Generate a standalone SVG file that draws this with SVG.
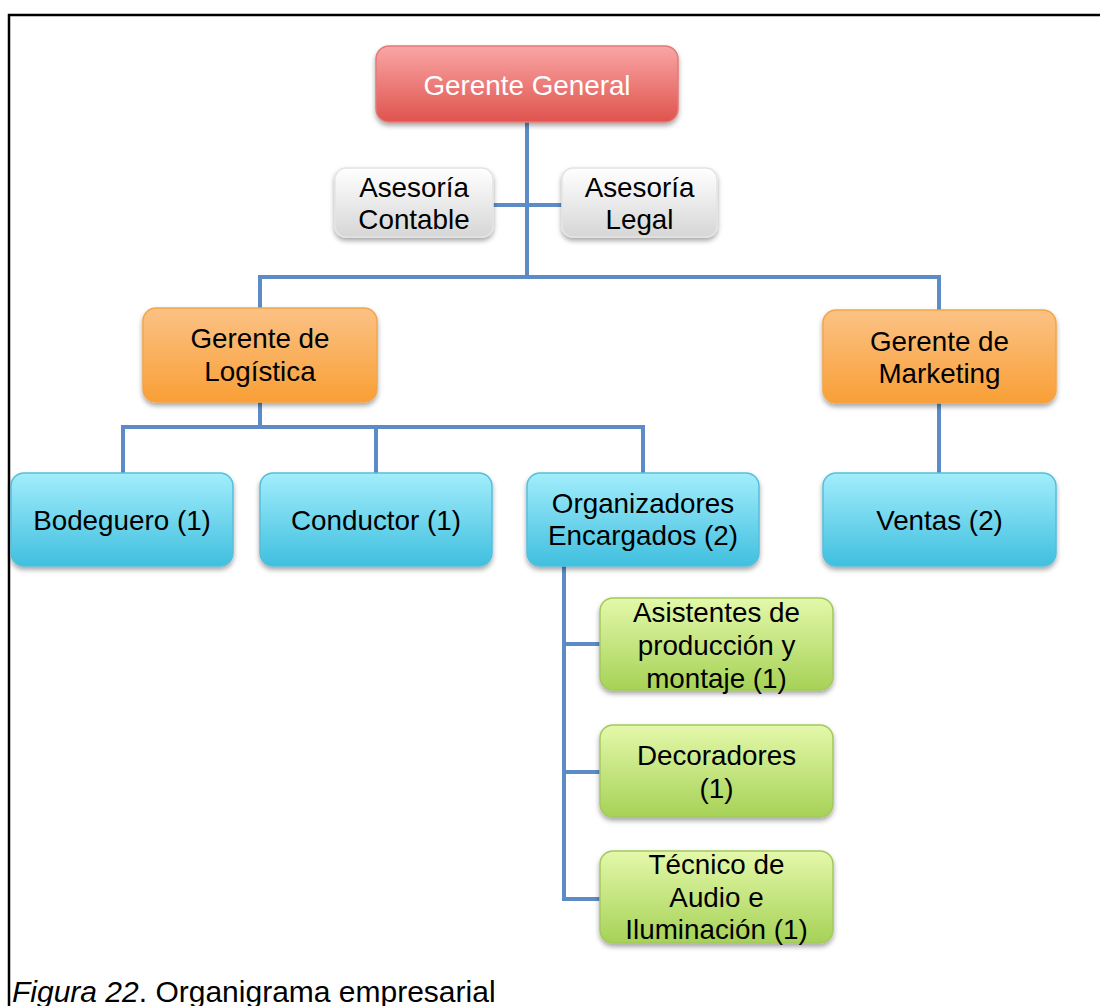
<svg xmlns="http://www.w3.org/2000/svg" width="1100" height="1006" viewBox="0 0 1100 1006">
  <style>
    .box { stroke-width: 1.5; filter: url(#shadow); }
    .red { fill: url(#gRed); stroke: #e27b77; }
    .gray { fill: url(#gGray); stroke: #e4e4e4; }
    .orange { fill: url(#gOrange); stroke: #f3a548; }
    .cyan { fill: url(#gCyan); stroke: #55bfdb; }
    .green { fill: url(#gGreen); stroke: #a3c95c; }
    .lbl { font-family: "Liberation Sans", Arial, sans-serif; font-size: 27.8px; text-anchor: middle; fill: #000; }
    .white { fill: #fff; }
    .conn { fill: none; stroke: #5b8cc6; stroke-width: 4; stroke-linejoin: miter; stroke-linecap: butt; }
    .frame { fill: none; stroke: #000; stroke-width: 2.5; }
    .caption { font-family: "Liberation Sans", Arial, sans-serif; font-size: 30px; fill: #000; }
  </style>
  <defs>
    <linearGradient id="gRed" x1="0" y1="0" x2="0" y2="1">
      <stop offset="0" stop-color="#f9a6a5"/>
      <stop offset="1" stop-color="#df534e"/>
    </linearGradient>
    <linearGradient id="gGray" x1="0" y1="0" x2="0" y2="1">
      <stop offset="0" stop-color="#ffffff"/>
      <stop offset="1" stop-color="#d6d6d6"/>
    </linearGradient>
    <linearGradient id="gOrange" x1="0" y1="0" x2="0" y2="1">
      <stop offset="0" stop-color="#fbc285"/>
      <stop offset="1" stop-color="#f99f36"/>
    </linearGradient>
    <linearGradient id="gCyan" x1="0" y1="0" x2="0" y2="1">
      <stop offset="0" stop-color="#a2edfb"/>
      <stop offset="1" stop-color="#40bfdf"/>
    </linearGradient>
    <linearGradient id="gGreen" x1="0" y1="0" x2="0" y2="1">
      <stop offset="0" stop-color="#e4f8aa"/>
      <stop offset="1" stop-color="#a6d257"/>
    </linearGradient>
    <filter id="shadow" x="-10%" y="-10%" width="120%" height="130%">
      <feDropShadow dx="0" dy="3" stdDeviation="2.5" flood-color="#000" flood-opacity="0.35"/>
    </filter>
  </defs>

  <rect width="1100" height="1006" fill="#fff"/>

  <!-- page frame: top and left rules -->
  <path class="frame" d="M9,1006 V15 H1100"/>

  <!-- connectors -->
  <g id="connectors">
    <path class="conn" d="M527,122 V277"/>
    <path class="conn" d="M493,205 H562"/>
    <path class="conn" d="M260,308 V277 H939 V310"/>
    <path class="conn" d="M260,402 V427"/>
    <path class="conn" d="M123,473 V427 H643 V473"/>
    <path class="conn" d="M376,427 V473"/>
    <path class="conn" d="M939,403 V473"/>
    <path class="conn" d="M564,566 V899 H600"/>
    <path class="conn" d="M564,644 H600"/>
    <path class="conn" d="M564,772 H600"/>
  </g>

  <!-- nodes -->
  <g id="gerente-general">
    <rect class="box red" x="376" y="46" width="302" height="76" rx="13"/>
    <text class="lbl white" x="527" y="95">Gerente General</text>
  </g>

  <g id="asesoria-contable">
    <rect class="box gray" x="335" y="168" width="158" height="69" rx="11"/>
    <text class="lbl" x="414" y="197">Asesoría</text>
    <text class="lbl" x="414" y="229">Contable</text>
  </g>

  <g id="asesoria-legal">
    <rect class="box gray" x="562" y="168" width="155" height="69" rx="11"/>
    <text class="lbl" x="639.5" y="197">Asesoría</text>
    <text class="lbl" x="639.5" y="229">Legal</text>
  </g>

  <g id="gerente-logistica">
    <rect class="box orange" x="143" y="308" width="234" height="94" rx="13"/>
    <text class="lbl" x="260" y="348">Gerente de</text>
    <text class="lbl" x="260" y="381">Logística</text>
  </g>

  <g id="gerente-marketing">
    <rect class="box orange" x="823" y="310" width="233" height="93" rx="13"/>
    <text class="lbl" x="939.5" y="351">Gerente de</text>
    <text class="lbl" x="939.5" y="383">Marketing</text>
  </g>

  <g id="bodeguero">
    <rect class="box cyan" x="11" y="473" width="222" height="93" rx="13"/>
    <text class="lbl" x="122" y="530">Bodeguero (1)</text>
  </g>

  <g id="conductor">
    <rect class="box cyan" x="260" y="473" width="232" height="93" rx="13"/>
    <text class="lbl" x="376" y="530">Conductor (1)</text>
  </g>

  <g id="organizadores">
    <rect class="box cyan" x="527" y="473" width="232" height="93" rx="13"/>
    <text class="lbl" x="643" y="513">Organizadores</text>
    <text class="lbl" x="643" y="545">Encargados (2)</text>
  </g>

  <g id="ventas">
    <rect class="box cyan" x="823" y="473" width="233" height="93" rx="13"/>
    <text class="lbl" x="939.5" y="530">Ventas (2)</text>
  </g>

  <g id="asistentes">
    <rect class="box green" x="600" y="598" width="233" height="92" rx="13"/>
    <text class="lbl" x="716.5" y="622">Asistentes de</text>
    <text class="lbl" x="716.5" y="655">producción y</text>
    <text class="lbl" x="716.5" y="688">montaje (1)</text>
  </g>

  <g id="decoradores">
    <rect class="box green" x="600" y="725" width="233" height="92" rx="13"/>
    <text class="lbl" x="716.5" y="765">Decoradores</text>
    <text class="lbl" x="716.5" y="798">(1)</text>
  </g>

  <g id="tecnico">
    <rect class="box green" x="600" y="851" width="233" height="92" rx="13"/>
    <text class="lbl" x="716.5" y="874">Técnico de</text>
    <text class="lbl" x="716.5" y="907">Audio e</text>
    <text class="lbl" x="716.5" y="939">Iluminación (1)</text>
  </g>

  <!-- caption -->
  <text class="caption" x="12" y="1002"><tspan font-style="italic">Figura 22</tspan>. Organigrama empresarial</text>
</svg>
